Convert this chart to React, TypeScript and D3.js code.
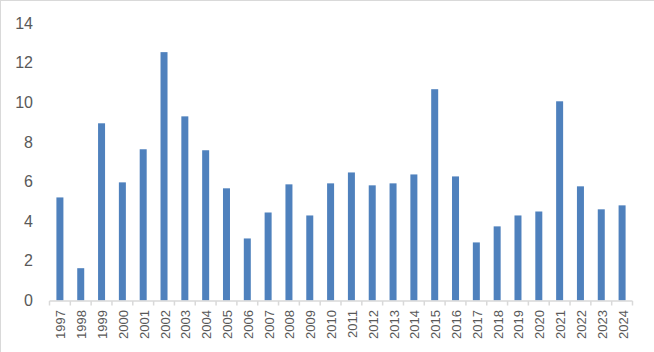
import React, { useEffect, useRef } from 'react';
import * as d3 from 'd3';

const years = [
  '1997', '1998', '1999', '2000', '2001', '2002', '2003', '2004', '2005', '2006',
  '2007', '2008', '2009', '2010', '2011', '2012', '2013', '2014', '2015', '2016',
  '2017', '2018', '2019', '2020', '2021', '2022', '2023', '2024',
];
const values = [
  5.2, 1.63, 8.94, 5.96, 7.63, 12.53, 9.29, 7.58, 5.66, 3.13,
  4.44, 5.86, 4.29, 5.91, 6.46, 5.81, 5.91, 6.36, 10.66, 6.26,
  2.93, 3.74, 4.29, 4.49, 10.05, 5.76, 4.6, 4.8,
];
const yTicks = [0, 2, 4, 6, 8, 10, 12, 14];

const App = () => {
  const svgRef = useRef<SVGSVGElement | null>(null);

  useEffect(() => {
    if (!svgRef.current) return;
    const width = 654;
    const height = 352;
    const svg = d3.select(svgRef.current);
    svg.selectAll('*').remove();
    svg.attr('width', width).attr('height', height);

    // chart frame (only top/left edge shows in the crop)
    svg.append('rect')
      .attr('x', 0.5).attr('y', 0.5)
      .attr('width', width + 10).attr('height', height + 10)
      .attr('fill', 'white')
      .attr('stroke', '#d9d9d9');

    const plot = { left: 49.5, right: 632.5, top: 23, bottom: 300.5 };

    const x = d3.scaleBand()
      .domain(years)
      .range([plot.left, plot.right]);

    const y = d3.scaleLinear()
      .domain([0, 14])
      .range([plot.bottom, plot.top]);

    const barW = 7;

    // bars
    svg.append('g')
      .selectAll('rect')
      .data(values)
      .enter()
      .append('rect')
      .attr('x', (d, i) => x(years[i])! + x.bandwidth() / 2 - barW / 2)
      .attr('y', d => y(d))
      .attr('width', barW)
      .attr('height', d => y(0) - y(d))
      .attr('fill', '#4f81bd');

    // y labels
    svg.append('g')
      .selectAll('text')
      .data(yTicks)
      .enter()
      .append('text')
      .attr('x', 33)
      .attr('y', d => y(d))
      .attr('dy', '0.35em')
      .attr('text-anchor', 'end')
      .style('font-family', '"Liberation Sans", Arial, sans-serif')
      .style('font-size', '16px')
      .style('fill', '#595959')
      .text(d => d);

    // x axis line + ticks at band edges
    const axis = svg.append('g').attr('stroke', '#d9d9d9').attr('stroke-width', 1.5);
    axis.append('line')
      .attr('x1', plot.left).attr('x2', plot.right)
      .attr('y1', plot.bottom + 0.5).attr('y2', plot.bottom + 0.5);
    const edges = years.map(yr => x(yr)!).concat([plot.right]);
    axis.selectAll('line.tick')
      .data(edges)
      .enter()
      .append('line')
      .attr('class', 'tick')
      .attr('x1', d => d).attr('x2', d => d)
      .attr('y1', plot.bottom + 0.5).attr('y2', plot.bottom + 5);

    // x labels, rotated
    svg.append('g')
      .selectAll('text')
      .data(years)
      .enter()
      .append('text')
      .attr('transform', d => `translate(${x(d)! + x.bandwidth() / 2 + 5.5},310) rotate(-90)`)
      .attr('text-anchor', 'end')
      .style('font-family', '"Liberation Sans", Arial, sans-serif')
      .style('font-size', '13px')
      .style('fill', '#595959')
      .text(d => d);
  }, []);

  return (
    <div style={{ position: 'absolute', left: 0, top: 0, width: 654, height: 352, overflow: 'hidden' }}>
      <svg ref={svgRef} style={{ display: 'block' }}></svg>
    </div>
  );
};

export default App;
